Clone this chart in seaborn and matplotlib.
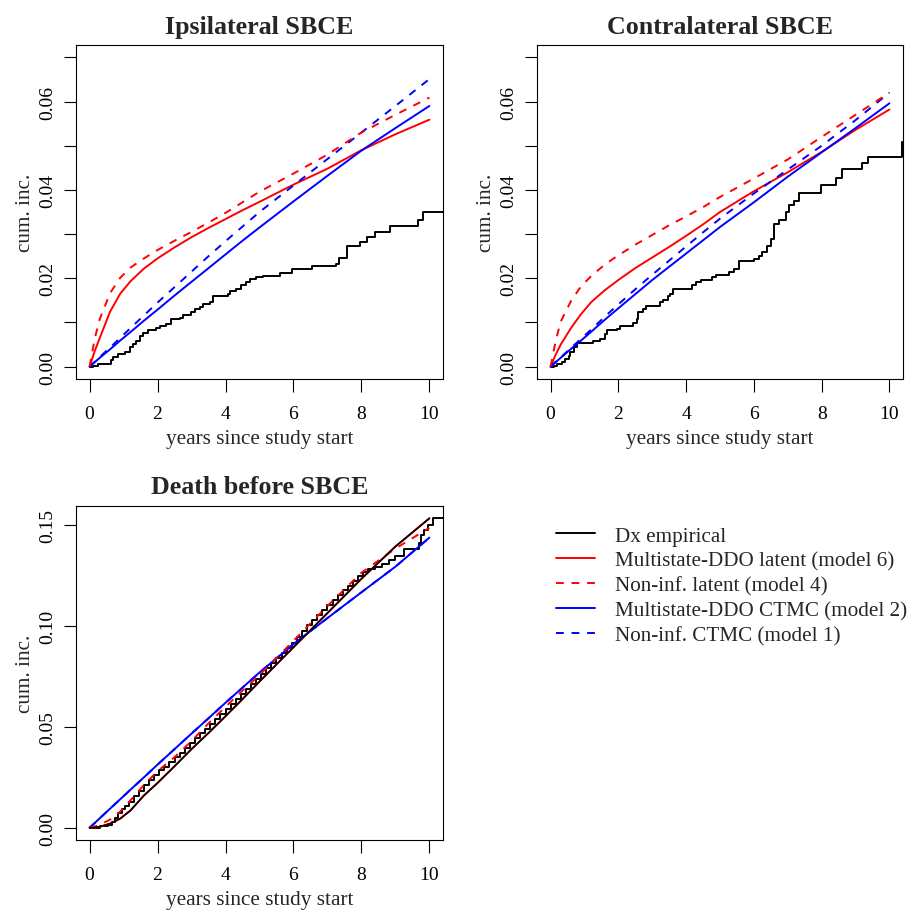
import matplotlib
matplotlib.use("Agg")
import matplotlib.pyplot as plt
from matplotlib.lines import Line2D
import numpy as np
import pandas as pd
import seaborn as sns

# ---------------- data ----------------
t_model = [0, 0.15, 0.3, 0.6, 0.9, 1.2, 1.6, 2, 2.5, 3, 3.5, 4, 4.5, 5, 6, 7, 8, 9, 10]

# Ipsilateral SBCE
ipsi_m6 = [0, 0.0035, 0.0065, 0.0124, 0.0165, 0.0193, 0.0222, 0.0245, 0.0270, 0.0293, 0.0314,
           0.0334, 0.0354, 0.0373, 0.0412, 0.0448, 0.0490, 0.0526, 0.0559]
ipsi_m4 = [0, 0.0063, 0.0108, 0.0166, 0.0201, 0.0224, 0.0245, 0.0264, 0.0285, 0.0305, 0.0326,
           0.0348, 0.0372, 0.0396, 0.0437, 0.0480, 0.0530, 0.0570, 0.0609]
ipsi_m2 = [0, 0.0010, 0.0020, 0.0039, 0.0059, 0.0078, 0.0104, 0.0129, 0.0161, 0.0192, 0.0223,
           0.0254, 0.0285, 0.0315, 0.0374, 0.0432, 0.0489, 0.0540, 0.0590]
ipsi_m1 = [0, 0.0011, 0.0022, 0.0043, 0.0065, 0.0087, 0.0116, 0.0145, 0.0180, 0.0215, 0.0250,
           0.0284, 0.0317, 0.0350, 0.0410, 0.0470, 0.0530, 0.0590, 0.0651]
ipsi_emp_t = [0, 0.10, 0.25, 0.64, 0.69, 0.83, 1.03, 1.18, 1.27, 1.37, 1.47, 1.57, 1.72, 1.96,
              2.06, 2.25, 2.40, 2.65, 2.75, 2.99, 3.09, 3.24, 3.33, 3.53, 3.63, 4.07, 4.12, 4.31,
              4.46, 4.61, 4.71, 4.90, 5.10, 5.61, 5.95, 6.54, 7.25, 7.35, 7.57, 7.96, 8.16, 8.40,
              8.84, 9.67, 9.80, 10.45]
ipsi_emp_v = [0, 0.0002, 0.0006, 0.0014, 0.0021, 0.0028, 0.0033, 0.0044, 0.0052, 0.0059, 0.0070,
              0.0076, 0.0082, 0.0087, 0.0093, 0.0097, 0.0107, 0.0110, 0.0116, 0.0123, 0.0131,
              0.0135, 0.0142, 0.0146, 0.0161, 0.0165, 0.0172, 0.0176, 0.0184, 0.0191, 0.0199,
              0.0203, 0.0206, 0.0211, 0.0220, 0.0228, 0.0233, 0.0245, 0.0274, 0.0282, 0.0293,
              0.0305, 0.0318, 0.0331, 0.0350, 0.0350]

# Contralateral SBCE
contra_m6 = [0, 0.0027, 0.0050, 0.0087, 0.0119, 0.0146, 0.0173, 0.0196, 0.0223, 0.0247, 0.0271,
             0.0296, 0.0322, 0.0350, 0.0397, 0.0440, 0.0486, 0.0536, 0.0582]
contra_m4 = [0, 0.0058, 0.0102, 0.0148, 0.0182, 0.0205, 0.0231, 0.0252, 0.0276, 0.0298, 0.0320,
             0.0340, 0.0361, 0.0384, 0.0426, 0.0469, 0.0520, 0.0570, 0.0620]
contra_m2 = [0, 0.0010, 0.0020, 0.0040, 0.0059, 0.0079, 0.0106, 0.0132, 0.0164, 0.0196, 0.0226,
             0.0256, 0.0286, 0.0316, 0.0372, 0.0430, 0.0485, 0.0540, 0.0596]
contra_m1 = [0, 0.0011, 0.0021, 0.0042, 0.0063, 0.0084, 0.0113, 0.0141, 0.0175, 0.0208, 0.0240,
             0.0272, 0.0304, 0.0335, 0.0392, 0.0446, 0.0500, 0.0558, 0.0620]
contra_emp_t = [0, 0.09, 0.19, 0.33, 0.43, 0.53, 0.58, 0.68, 0.77, 1.26, 1.46, 1.61, 1.66, 1.95,
                2.05, 2.25, 2.44, 2.54, 2.59, 2.74, 2.83, 3.03, 3.23, 3.32, 3.47, 3.52, 3.62,
                4.06, 4.16, 4.30, 4.45, 4.75, 4.89, 5.27, 5.42, 5.57, 6.01, 6.15, 6.25, 6.40,
                6.50, 6.60, 6.74, 6.94, 7.04, 7.19, 7.33, 7.97, 8.42, 8.61, 9.20, 9.37, 10.37,
                10.45]
contra_emp_v = [0, 0.0002, 0.0006, 0.0010, 0.0017, 0.0025, 0.0033, 0.0044, 0.0053, 0.0059,
                0.0063, 0.0074, 0.0084, 0.0085, 0.0091, 0.0093, 0.0099, 0.0107, 0.0123, 0.0131,
                0.0137, 0.0138, 0.0146, 0.0150, 0.0159, 0.0165, 0.0175, 0.0176, 0.0185, 0.0191,
                0.0195, 0.0203, 0.0208, 0.0214, 0.0221, 0.0240, 0.0244, 0.0250, 0.0259, 0.0272,
                0.0290, 0.0323, 0.0331, 0.0350, 0.0365, 0.0376, 0.0392, 0.0412, 0.0426, 0.0447,
                0.0460, 0.0475, 0.0509, 0.0509]

# Death before SBCE
death_m6 = [0, 0.0001, 0.0005, 0.0020, 0.0045, 0.0085, 0.0160, 0.0222, 0.0305, 0.0390, 0.0470,
            0.0553, 0.0638, 0.0725, 0.0895, 0.1065, 0.1235, 0.1395, 0.1535]
death_m4 = [0, 0.0006, 0.0015, 0.0040, 0.0080, 0.0135, 0.0212, 0.0280, 0.0350, 0.0430, 0.0518,
            0.0600, 0.0680, 0.0757, 0.0927, 0.1100, 0.1265, 0.1385, 0.1488]
death_m2 = [0, 0.0023, 0.0047, 0.0094, 0.0141, 0.0188, 0.0250, 0.0313, 0.0390, 0.0467, 0.0543,
            0.0620, 0.0695, 0.0770, 0.0911, 0.1040, 0.1168, 0.1295, 0.1439]
death_m1 = [0, 0.0023, 0.0047, 0.0094, 0.0141, 0.0188, 0.0250, 0.0313, 0.0390, 0.0467, 0.0543,
            0.0620, 0.0695, 0.0770, 0.0911, 0.1040, 0.1168, 0.1295, 0.1439]
death_emp_t = [0, 0.30, 0.55, 0.65, 0.75, 0.85, 0.95, 1.05, 1.15, 1.30, 1.45, 1.60, 1.75, 1.90,
               2.05, 2.20, 2.35, 2.50, 2.65, 2.80, 2.95, 3.10, 3.25, 3.40, 3.55, 3.70, 3.85,
               4.00, 4.15, 4.30, 4.45, 4.60, 4.75, 4.90, 5.05, 5.20, 5.35, 5.50, 5.65, 5.80,
               5.95, 6.10, 6.25, 6.40, 6.55, 6.70, 6.85, 7.00, 7.15, 7.30, 7.45, 7.60, 7.75,
               7.90, 8.05, 8.20, 8.40, 8.60, 8.80, 9.00, 9.24, 9.68, 9.75, 9.85, 9.95, 10.10,
               10.45]
death_emp_v = [0, 0.0008, 0.0015, 0.0030, 0.0050, 0.0075, 0.0095, 0.0110, 0.0130, 0.0155,
               0.0180, 0.0210, 0.0235, 0.0262, 0.0285, 0.0300, 0.0325, 0.0350, 0.0372, 0.0395,
               0.0420, 0.0445, 0.0470, 0.0490, 0.0515, 0.0540, 0.0565, 0.0590, 0.0615, 0.0640,
               0.0665, 0.0690, 0.0715, 0.0740, 0.0765, 0.0790, 0.0815, 0.0840, 0.0865, 0.0890,
               0.0915, 0.0945, 0.0975, 0.1005, 0.1030, 0.1055, 0.1080, 0.1105, 0.1130, 0.1155,
               0.1180, 0.1200, 0.1225, 0.1250, 0.1268, 0.1282, 0.1295, 0.1310, 0.1330, 0.1350,
               0.1381, 0.1410, 0.1450, 0.1475, 0.1500, 0.1538, 0.1538]

titles = ["Ipsilateral SBCE", "Contralateral SBCE", "Death before SBCE"]
legend_labels = ["Dx empirical", "Multistate-DDO latent (model 6)", "Non-inf. latent (model 4)",
                 "Multistate-DDO CTMC (model 2)", "Non-inf. CTMC (model 1)"]
x_ticks = [0, 2, 4, 6, 8, 10]

# ---------------- style ----------------
sns.set_theme(style="white")
plt.rcParams["font.family"] = ["Liberation Serif", "DejaVu Serif"]
plt.rcParams.update({
    "axes.edgecolor": "black",
    "axes.linewidth": 0.8,
    "xtick.direction": "out",
    "ytick.direction": "out",
    "xtick.major.size": 9,
    "ytick.major.size": 9,
    "xtick.major.width": 0.8,
    "ytick.major.width": 0.8,
    "xtick.color": "black",
    "ytick.color": "black",
    "xtick.bottom": True,
    "ytick.left": True,
})

LW = 1.4
DASH = (0, (4, 4))
TICK_FS = 14
LAB_FS = 15.3
TITLE_FS = 18.7
LEG_FS = 15.2

fig = plt.figure(figsize=(9.09, 9.12), dpi=100)
W, H = 909, 912


def add_ax(l, t, r, b):
    return fig.add_axes([l / W, 1 - b / H, (r - l) / W, (b - t) / H])


ax1 = add_ax(76, 46, 443, 380)
ax2 = add_ax(537, 46, 903, 380)
ax3 = add_ax(76, 507, 443, 841)

panels = [
    (ax1, ipsi_emp_t, ipsi_emp_v, ipsi_m6, ipsi_m4, ipsi_m2, ipsi_m1, None),
    (ax2, contra_emp_t, contra_emp_v, contra_m6, contra_m4, contra_m2, contra_m1, None),
    (ax3, death_emp_t, death_emp_v, death_m6, death_m4, death_m2, death_m1, "smooth"),
]

for i, (ax, et, ev, m6, m4, m2, m1, extra) in enumerate(panels):
    emp = pd.DataFrame({"t": et, "v": ev})
    sns.lineplot(data=emp, x="t", y="v", ax=ax, color="black", lw=LW, estimator=None,
                 sort=False, drawstyle="steps-post", legend=False)
    dfm = pd.DataFrame({"t": t_model, "m6": m6, "m4": m4, "m2": m2, "m1": m1})
    sns.lineplot(data=dfm, x="t", y="m6", ax=ax, color="red", lw=LW, estimator=None, legend=False)
    sns.lineplot(data=dfm, x="t", y="m1", ax=ax, color="blue", lw=LW, estimator=None,
                 linestyle=DASH, legend=False)
    sns.lineplot(data=dfm, x="t", y="m2", ax=ax, color="blue", lw=LW, estimator=None, legend=False)
    sns.lineplot(data=dfm, x="t", y="m4", ax=ax, color="red", lw=LW, estimator=None,
                 linestyle=DASH, legend=False)
    if extra == "smooth":
        sns.lineplot(data=dfm, x="t", y="m6", ax=ax, color="black", lw=LW * 0.85,
                     estimator=None, legend=False)

    ax.set_xlim(-0.4, 10.4)
    ax.set_xticks(x_ticks)
    ax.set_xticklabels([str(v) for v in x_ticks])
    if i < 2:
        ax.set_ylim(-0.0028, 0.0728)
        yt = [0, 0.01, 0.02, 0.03, 0.04, 0.05, 0.06, 0.07]
        ax.set_yticks(yt)
        ax.set_yticklabels([f"{v:.2f}" if k % 2 == 0 else "" for k, v in enumerate(yt)])
    else:
        ax.set_ylim(-0.0061, 0.1596)
        yt = [0, 0.05, 0.10, 0.15]
        ax.set_yticks(yt)
        ax.set_yticklabels([f"{v:.2f}" for v in yt])
    ax.tick_params(axis="x", labelsize=TICK_FS, pad=10)
    ax.tick_params(axis="y", labelsize=TICK_FS, pad=5.5)
    for lab in ax.get_yticklabels():
        lab.set_rotation(90)
        lab.set_va("center")
    ax.set_xlabel("years since study start", fontsize=LAB_FS, labelpad=5)
    ax.set_ylabel("cum. inc.", fontsize=LAB_FS, labelpad=2.5)
    ax.set_title(titles[i], fontsize=TITLE_FS, fontweight="bold", pad=9)
    for s in ax.spines.values():
        s.set_visible(True)
        s.set_color("black")
        s.set_linewidth(0.8)

handles = [
    Line2D([], [], color="black", lw=LW),
    Line2D([], [], color="red", lw=LW),
    Line2D([], [], color="red", lw=LW, linestyle=DASH),
    Line2D([], [], color="blue", lw=LW),
    Line2D([], [], color="blue", lw=LW, linestyle=DASH),
]
fig.legend(handles, legend_labels, loc="upper left", bbox_to_anchor=(556 / W, 1 - 527 / H),
           frameon=False, fontsize=LEG_FS, handlelength=1.85, handletextpad=0.95,
           labelspacing=0.245, borderpad=0, borderaxespad=0)

fig.savefig("out.png", dpi=100, facecolor="white")
